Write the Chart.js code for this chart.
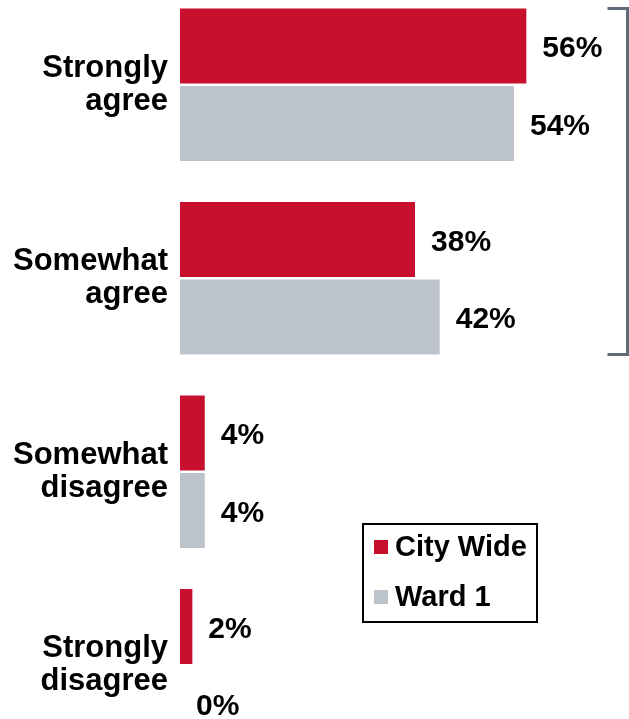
<!DOCTYPE html>
<html>
<head>
<meta charset="utf-8">
<script src="https://cdn.jsdelivr.net/npm/chart.js@4"></script>
<style>
    html, body { margin: 0; padding: 0; background: #fff; overflow: hidden; }
    #wrap { position: absolute; left: 0; top: -12px; width: 629px; height: 774px; }
</style>
</head>
<body>
<div id="wrap"><canvas id="agreeChart" width="629" height="774"></canvas></div>
<script>
// Chart data
const categories = [
    ['Strongly', 'agree'],
    ['Somewhat', 'agree'],
    ['Somewhat', 'disagree'],
    ['Strongly', 'disagree']
];
const cityWide = [56, 38, 4, 2];
const ward1 = [54, 42, 4, 0];
const seriesNames = ['City Wide', 'Ward 1'];

const FONT = '"Liberation Sans", Arial, sans-serif';
const RED = '#c8102e';
const GREY = '#bcc3ca';

// Value labels at the end of each bar
const valueLabels = {
    id: 'valueLabels',
    afterDatasetsDraw(chart) {
        const ctx = chart.ctx;
        ctx.save();
        ctx.font = 'bold 30px ' + FONT;
        ctx.fillStyle = '#000';
        ctx.textAlign = 'left';
        ctx.textBaseline = 'middle';
        chart.data.datasets.forEach((ds, i) => {
            chart.getDatasetMeta(i).data.forEach((bar, j) => {
                ctx.fillText(ds.data[j] + '%', bar.x + 16, bar.y + 3);
            });
        });
        ctx.restore();
    }
};

// Bracket around the "agree" groups and the boxed legend
const extras = {
    id: 'extras',
    afterDraw(chart) {
        const ctx = chart.ctx;
        const first = chart.getDatasetMeta(0).data[0];
        const last = chart.getDatasetMeta(1).data[1];
        const top = first.y - first.height / 2;
        const bottom = last.y + last.height / 2;
        const x = chart.chartArea.right - 1.5;

        ctx.save();
        ctx.strokeStyle = '#5f6b76';
        ctx.lineWidth = 3;
        ctx.beginPath();
        ctx.moveTo(x - 20, top);
        ctx.lineTo(x, top);
        ctx.lineTo(x, bottom);
        ctx.lineTo(x - 20, bottom);
        ctx.stroke();

        // legend box (page coords shifted by the wrapper offset)
        const off = 12;
        ctx.strokeStyle = '#000';
        ctx.lineWidth = 2;
        ctx.strokeRect(363, 524 + off, 174, 98);

        ctx.font = 'bold 29px ' + FONT;
        ctx.textBaseline = 'middle';
        ctx.textAlign = 'left';
        const rows = [547, 597];
        chart.data.datasets.forEach((ds, i) => {
            ctx.fillStyle = ds.backgroundColor;
            ctx.fillRect(374, rows[i] + off - 7, 14, 14);
            ctx.fillStyle = '#000';
            ctx.fillText(ds.label, 395, rows[i] + off + 1);
        });
        ctx.restore();
    }
};

const ctx = document.getElementById('agreeChart').getContext('2d');
const agreeChart = new Chart(ctx, {
    type: 'bar',
    data: {
        labels: categories,
        datasets: [{
            label: seriesNames[0],
            data: cityWide,
            backgroundColor: RED,
            categoryPercentage: 0.8,
            barPercentage: 0.97
        }, {
            label: seriesNames[1],
            data: ward1,
            backgroundColor: GREY,
            categoryPercentage: 0.8,
            barPercentage: 0.97
        }]
    },
    options: {
        indexAxis: 'y',
        responsive: false,
        animation: false,
        layout: { padding: 0 },
        plugins: {
            legend: { display: false },
            tooltip: { enabled: false }
        },
        scales: {
            x: {
                display: false,
                min: 0,
                max: 72.6
            },
            y: {
                grid: { display: false, drawTicks: false },
                border: { display: false },
                ticks: {
                    color: '#000',
                    padding: 12,
                    font: { family: FONT, size: 31, weight: 'bold', lineHeight: 1.07 }
                },
                afterFit(scale) {
                    scale.width = 180;
                    scale.paddingTop = 0;
                    scale.paddingBottom = 0;
                }
            }
        }
    },
    plugins: [valueLabels, extras]
});
</script>
</body>
</html>
